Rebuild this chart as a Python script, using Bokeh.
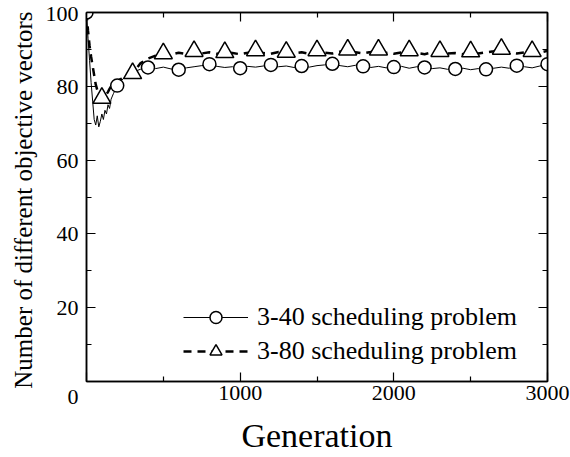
from bokeh.plotting import figure
from bokeh.models import (FixedTicker, LinearAxis, Legend, LegendItem)
from bokeh.embed import file_html
from bokeh.resources import INLINE

# ---- data ----
generation = [0, 10, 20, 30, 40, 50, 60, 70, 80, 90, 100, 110, 120, 130, 140, 150,
              160, 175, 200, 225, 250, 275, 300, 350,
              400, 450, 500, 550, 600, 650, 700, 750, 800, 850, 900, 950,
              1000, 1050, 1100, 1150, 1200, 1250, 1300, 1350, 1400, 1450,
              1500, 1550, 1600, 1650, 1700, 1750, 1800, 1850, 1900, 1950,
              2000, 2050, 2100, 2150, 2200, 2250, 2300, 2350, 2400, 2450,
              2500, 2550, 2600, 2650, 2700, 2750, 2800, 2850, 2900, 2950, 3000]

vectors_3_40 = [100, 93, 87, 81, 76, 71, 69.5, 72, 69, 70.5, 72.5, 71, 73.5, 72.5, 75, 74,
                76.5, 78, 80.2, 81.5, 82.5, 83, 83.8, 84.6,
                85.1, 84.8, 85.2, 84.7, 84.5, 85.0, 85.3, 85.6, 86.0, 85.4, 85.1, 85.3,
                84.9, 85.4, 85.2, 85.5, 85.8, 85.3, 85.5, 85.1, 85.5, 85.2,
                85.6, 85.8, 86.1, 85.6, 85.3, 85.7, 85.4, 85.1, 85.4, 85.0,
                85.2, 85.4, 84.9, 85.3, 85.1, 84.8, 85.0, 84.6, 84.7, 84.9,
                84.5, 84.8, 84.6, 84.9, 85.2, 84.9, 85.6, 85.3, 85.0, 85.5, 86.0]

vectors_3_80 = [100, 95, 91, 88, 85.5, 83, 80.5, 79, 78, 77.3, 76.8, 76.2, 77, 77.8, 78.5, 79.3,
                80, 80.8, 81.5, 82, 82.5, 83, 83.5, 86.2,
                87.5, 88.3, 88.9, 88.6, 89.1, 88.7, 89.5, 88.9, 89.2, 88.8, 89.2, 89.0,
                88.7, 89.1, 89.7, 89.0, 88.8, 89.3, 89.3, 88.9, 89.2, 88.8,
                89.7, 89.1, 88.9, 89.4, 89.9, 89.2, 88.9, 89.3, 89.9, 89.1,
                88.8, 89.2, 89.7, 89.0, 88.7, 89.2, 89.5, 88.9, 89.0, 88.7,
                89.4, 88.9, 89.2, 89.5, 90.1, 89.3, 88.9, 89.2, 89.5, 89.1, 89.6]

x_major = [0, 1000, 2000, 3000]
x_minor = [500, 1500, 2500]
y_major = [0, 20, 40, 60, 80, 100]
y_minor = [10, 30, 50, 70, 90]

# markers: circles every 200 generations, triangles offset by 100
mk40_x = [g for g in generation if g % 200 == 0]
mk40_y = [v for g, v in zip(generation, vectors_3_40) if g % 200 == 0]
mk80_x = [g for g in generation if g % 200 == 100]
mk80_y = [v for g, v in zip(generation, vectors_3_80) if g % 200 == 100]

FONT = "Liberation Serif"
NBSP = "\u00a0"

p = figure(width=570, height=457, x_range=(0, 3000), y_range=(0, 100),
           output_backend="svg", toolbar_location=None,
           min_border_left=86, min_border_right=23, min_border_top=12,
           min_border_bottom=76)
p.background_fill_color = "white"
p.border_fill_color = "white"
p.grid.visible = False
p.outline_line_color = "black"
p.outline_line_width = 1.5

# main axes
xa = p.xaxis[0]
ya = p.yaxis[0]
xa.ticker = FixedTicker(ticks=x_major, minor_ticks=x_minor)
ya.ticker = FixedTicker(ticks=y_major, minor_ticks=y_minor)
# the shared corner "0" sits below-left of the origin
xa.major_label_overrides = {0: ""}
ya.major_label_overrides = {0: "\n0"}
xa.axis_label = "Generation"
# a trailing no-break space nudges the rotated title slightly downward
ya.axis_label = "Number of different objective vectors" + NBSP
for ax in (xa, ya):
    ax.axis_line_color = "black"
    ax.axis_line_width = 1.5
    ax.major_tick_in = 9
    ax.major_tick_out = 0
    ax.minor_tick_in = 5
    ax.minor_tick_out = 0
    ax.major_tick_line_width = 1.2
    ax.minor_tick_line_width = 1.2
    ax.major_label_text_font = FONT
    ax.major_label_text_font_size = "22px"
    ax.major_label_text_color = "black"
    ax.axis_label_text_font = FONT
    ax.axis_label_text_font_style = "normal"
    ax.axis_label_text_color = "black"
xa.axis_label_text_font_size = "34px"
ya.axis_label_text_font_size = "25px"
xa.major_label_standoff = 4
ya.major_label_standoff = 8
xa.axis_label_standoff = 14
ya.axis_label_standoff = 6

# top/right axes (ticks only)
for loc, ticks, minors in (("above", x_major, x_minor), ("right", y_major, y_minor)):
    ax = LinearAxis(ticker=FixedTicker(ticks=ticks, minor_ticks=minors))
    ax.major_label_overrides = {t: "" for t in ticks}
    ax.major_label_text_font_size = "1px"
    ax.major_label_standoff = 0
    ax.axis_line_color = "black"
    ax.axis_line_width = 1.5
    ax.major_tick_in = 9
    ax.major_tick_out = 0
    ax.minor_tick_in = 5
    ax.minor_tick_out = 0
    ax.major_tick_line_width = 1.2
    ax.minor_tick_line_width = 1.2
    p.add_layout(ax, loc)

# series
l40 = p.line(generation, vectors_3_40, line_color="black", line_width=1)
l80 = p.line(generation, vectors_3_80, line_color="black", line_width=2.5,
             line_dash="8 6")
s40 = p.scatter(mk40_x, mk40_y, marker="circle", size=13, fill_color="white",
                line_color="black", line_width=1.5)
s80 = p.scatter(mk80_x, mk80_y, marker="triangle", size=18, fill_color="white",
                line_color="black", line_width=1.5)

legend = Legend(items=[LegendItem(label="3-40 scheduling problem", renderers=[l40, s40]),
                       LegendItem(label="3-80 scheduling problem", renderers=[l80, s80])],
                location=(97, 15), border_line_color=None, background_fill_alpha=0,
                padding=0, margin=0, spacing=4, glyph_width=65, glyph_height=30,
                label_height=30, label_standoff=9,
                label_text_font=FONT, label_text_font_size="26px",
                label_text_color="black")
p.add_layout(legend, "center")

open("out.html", "w").write(file_html(p, INLINE))
